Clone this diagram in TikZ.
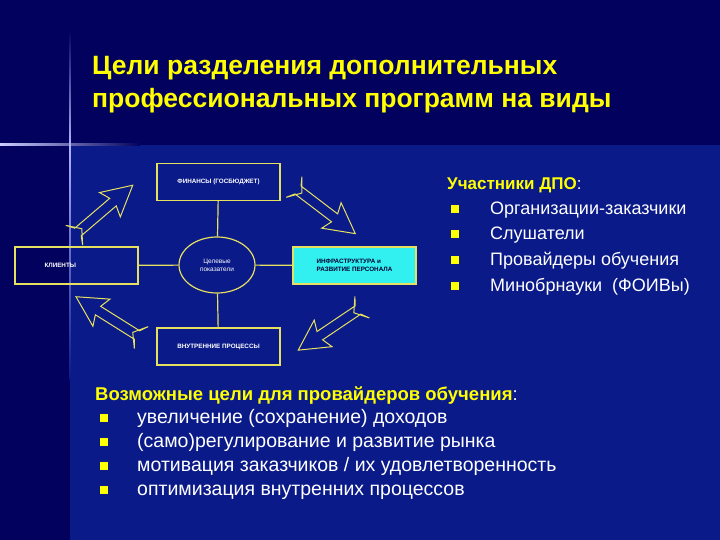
\documentclass[tikz,border=0pt]{standalone}
\usepackage{fontspec}
\setmainfont{Liberation Sans}
\usetikzlibrary{shapes.geometric}
\definecolor{bgtop}{HTML}{02025E}
\definecolor{bgbot}{HTML}{0A1A88}
\definecolor{ylw}{HTML}{FFFF00}
\definecolor{boxy}{HTML}{E6E060}
\definecolor{cyanf}{HTML}{33F0F0}
\begin{document}
\begin{tikzpicture}[x=1pt,y=1pt,
  bx/.style={draw=boxy,line width=1.2pt,minimum width=123pt,minimum height=37pt,font=\bfseries\fontsize{6.3}{7.5}\selectfont,text=white},
  link/.style={draw=boxy,line width=1.2pt},
  barr/.style={draw=boxy,line width=1pt},
  ttl/.style={anchor=base west,text=ylw,font=\bfseries\fontsize{26.5}{30}\selectfont,inner sep=0},
  hd/.style={anchor=base west,text=ylw,font=\bfseries\fontsize{17}{20}\selectfont,inner sep=0},
  it/.style={anchor=base west,text=white,font=\fontsize{18}{21}\selectfont,inner sep=0},
  bul/.style={fill=ylw,minimum size=8pt,inner sep=0}]
\useasboundingbox (0,0) rectangle (720,540);
\fill[bgtop] (0,0) rectangle (720,540);
\fill[bgbot] (70,0) rectangle (720,395);
\shade[left color=white!80!blue,right color=bgtop] (0,394.5) rectangle (140,396);
\shade[top color=bgtop,bottom color=white!70!blue] (69.4,395) rectangle (70.6,510);
\shade[top color=white!70!blue,bottom color=bgbot] (69.4,395) rectangle (70.6,160);
% title
\node[ttl] (t1) at (92,465) {Цели разделения дополнительных};
\node[ttl] (t2) at (92,432) {профессиональных программ на виды};
% diagram
\node[bx] (fin) at (218.5,358) {ФИНАНСЫ (ГОСБЮДЖЕТ)};
\node[bx,text width=100pt,align=left] (kl) at (76.5,274.5) {\hspace*{18pt}КЛИЕНТЫ};
\node[bx,fill=cyanf,text=black!80!blue,align=left] (inf) at (354.5,274.5) {ИНФРАСТРУКТУРА и\\РАЗВИТИЕ ПЕРСОНАЛА};
\node[bx] (vn) at (218.5,193.5) {ВНУТРЕННИЕ ПРОЦЕССЫ};
\node[ellipse,draw=boxy,line width=1.2pt,minimum width=76pt,minimum height=56pt,inner sep=0,align=center,text=white,font=\fontsize{6.5}{8}\selectfont] (el) at (217,275) {Целевые\\показатели};
\draw[link] (el) -- (fin);
\draw[link] (el) -- (vn);
\draw[link] (el) -- (kl);
\draw[link] (el) -- (inf);
% block arrows
\foreach \px/\py/\ang in {78/308/40.5, 298/350/-37.3, 358/230/213.9, 137/205/147.9}{
  \begin{scope}[shift={(\px,\py)},rotate=\ang]
    \draw[barr] (0,-5)--(46,-5)--(42,-16)--(72,0)--(42,16)--(46,5)--(0,5)--(-5,13)--(5,0)--(-5,-13)--cycle;
  \end{scope}}
% participants
\node[hd] (h1) at (447,350) {Участники ДПО\textcolor{white}{\mdseries:}};
\foreach \y/\t in {215/{Организации-заказчики},240/{Слушатели},266/{Провайдеры обучения},292/{Минобрнауки\ \ (ФОИВы)}}{
  \node[bul] at (455,540-\y+6) {};
  \node[it] at (490,540-\y) {\t};}
% goals
\node[hd,font=\bfseries\fontsize{18.5}{21}\selectfont] (h2) at (95,540-401) {Возможные цели для провайдеров обучения\textcolor{white}{\mdseries:}};
\foreach \y/\t in {424/{увеличение (сохранение) доходов},448/{(само)регулирование и развитие рынка},472/{мотивация заказчиков / их удовлетворенность},496/{оптимизация внутренних процессов}}{
  \node[bul] at (104,540-\y+6) {};
  \node[it,font=\fontsize{19.5}{22}\selectfont] at (137,540-\y) {\t};}
\end{tikzpicture}
\end{document}
